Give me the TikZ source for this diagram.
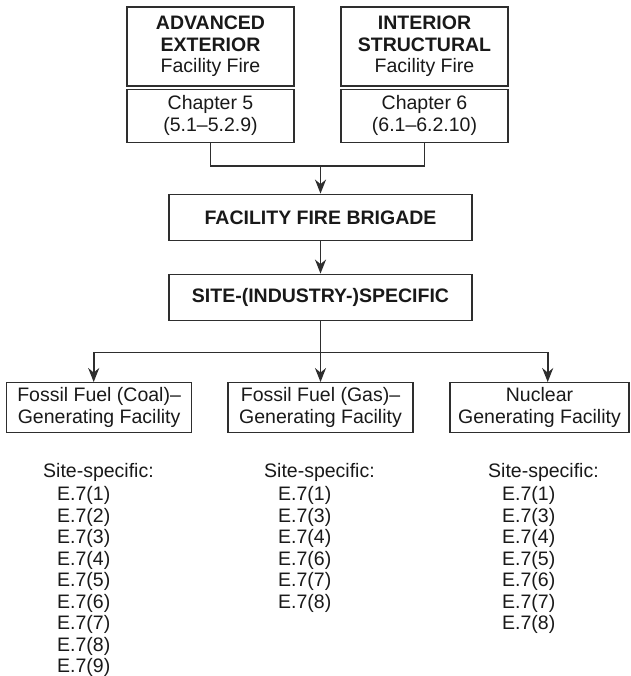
\documentclass[tikz,border=0pt]{standalone}
\usepackage{fontspec}
\setmainfont{Liberation Sans}
\usetikzlibrary{arrows.meta}
\colorlet{lcol}{black!82}
\colorlet{tcol}{black!90}
\tikzstyle{box}=[draw=lcol, line width=1.3pt, align=center, inner sep=0pt, text=tcol]
\tikzstyle{link}=[line width=1.8pt, lcol]
\tikzstyle{arrow}=[link, -{Stealth[length=14pt,width=11pt,inset=4.5pt]}]
\tikzstyle{list}=[align=left, anchor=north west, inner sep=0pt, text=tcol]

\begin{document}
\begin{tikzpicture}[x=1pt, y=-1pt, font=\fontsize{19.5}{21.5}\selectfont]
			\useasboundingbox (0,0) rectangle (630,676);

			\node[box, minimum width=167pt, minimum height=79pt] (ext) at (210.5, 46.5) {\textbf{ADVANCED}\\\textbf{EXTERIOR}\\Facility Fire};
			\node[box, minimum width=167pt, minimum height=53pt] (extch) at (210.5, 115.7) {Chapter 5\\(5.1--5.2.9)};
			\node[box, minimum width=167pt, minimum height=79pt] (int) at (424.5, 46.5) {\textbf{INTERIOR}\\\textbf{STRUCTURAL}\\Facility Fire};
			\node[box, minimum width=167pt, minimum height=53pt] (intch) at (424.5, 115.7) {Chapter 6\\(6.1--6.2.10)};
			\node[box, minimum width=303pt, minimum height=46.5pt] (ffb) at (320.5, 217.5) {\textbf{FACILITY FIRE BRIGADE}};
			\node[box, minimum width=303pt, minimum height=46.5pt] (site) at (320.5, 297.5) {\textbf{SITE-(INDUSTRY-)SPECIFIC}};
			\node[box, minimum width=185.3pt, minimum height=50pt] (coal) at (99.1, 407.7) {Fossil Fuel (Coal)--\\Generating Facility};
			\node[box, minimum width=185pt, minimum height=50pt] (gas) at (320.5, 407.7) {Fossil Fuel (Gas)--\\Generating Facility};
			\node[box, minimum width=179pt, minimum height=50pt] (nuc) at (539.5, 407.7) {Nuclear\\Generating Facility};

			\coordinate (j) at (320.5, 165.7);
			\coordinate (s) at (320.5, 352.5);

			% Chapters to brigade
			\draw[link] (extch.south) |- (j) -| (intch.south);
			\draw[arrow] (j) -- (ffb.north);
			\draw[arrow] (ffb) -- (site);
			% Branches
			\draw[arrow] (site) -- (gas.north);
			\draw[arrow] (s) -| ([xshift=-5.4pt]coal.north);
			\draw[arrow] (s) -| ([xshift=8.2pt]nuc.north);

			% Site-specific lists
			\node[list] (coallist) at (43, 463) {Site-specific:\\[2pt]
				\hspace*{14pt}E.7(1)\\\hspace*{14pt}E.7(2)\\\hspace*{14pt}E.7(3)\\
				\hspace*{14pt}E.7(4)\\\hspace*{14pt}E.7(5)\\\hspace*{14pt}E.7(6)\\
				\hspace*{14pt}E.7(7)\\\hspace*{14pt}E.7(8)\\\hspace*{14pt}E.7(9)};
			\node[list] (gaslist) at (264, 463) {Site-specific:\\[2pt]
				\hspace*{14pt}E.7(1)\\\hspace*{14pt}E.7(3)\\\hspace*{14pt}E.7(4)\\
				\hspace*{14pt}E.7(6)\\\hspace*{14pt}E.7(7)\\\hspace*{14pt}E.7(8)};
			\node[list] (nuclist) at (488, 463) {Site-specific:\\[2pt]
				\hspace*{14pt}E.7(1)\\\hspace*{14pt}E.7(3)\\\hspace*{14pt}E.7(4)\\
				\hspace*{14pt}E.7(5)\\\hspace*{14pt}E.7(6)\\\hspace*{14pt}E.7(7)\\
				\hspace*{14pt}E.7(8)};
		\end{tikzpicture}
\end{document}
